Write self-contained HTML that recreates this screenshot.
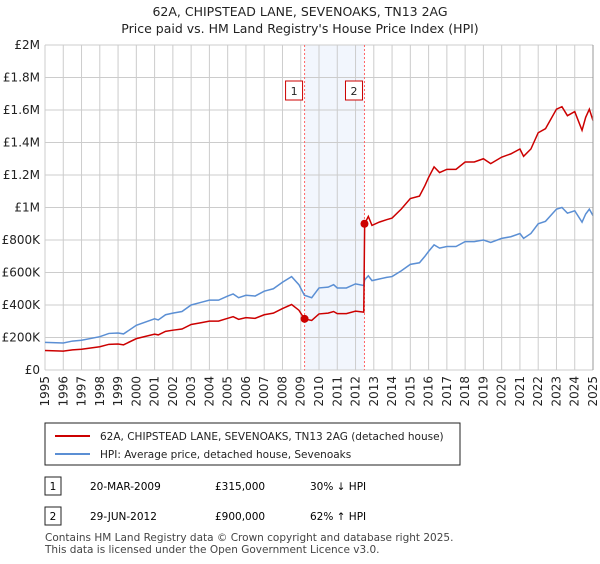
<!DOCTYPE html>
<html><head><meta charset="utf-8"><style>
body{margin:0;background:#fff;font-family:"DejaVu Sans","Liberation Sans",sans-serif;}
</style></head><body>
<svg width="600" height="560" xmlns="http://www.w3.org/2000/svg" font-family="DejaVu Sans, Liberation Sans, sans-serif">
<text x="300" y="16" text-anchor="middle" font-size="12.5" fill="#222">62A, CHIPSTEAD LANE, SEVENOAKS, TN13 2AG</text>
<text x="300" y="33" text-anchor="middle" font-size="12.5" fill="#222">Price paid vs. HM Land Registry's House Price Index (HPI)</text>
<g id="grid"></g><g id="series"></g><g id="axes"></g>
<rect x="45" y="423" width="415" height="42" fill="#fff" stroke="#222"/>
<line x1="55" y1="436" x2="90" y2="436" stroke="#cc0000" stroke-width="2"/>
<text x="100" y="440" font-size="10.5" fill="#222">62A, CHIPSTEAD LANE, SEVENOAKS, TN13 2AG (detached house)</text>
<line x1="55" y1="454" x2="90" y2="454" stroke="#5b8fd4" stroke-width="2"/>
<text x="100" y="458" font-size="10.5" fill="#222">HPI: Average price, detached house, Sevenoaks</text>
<g>
<rect x="45" y="477" width="16" height="18" fill="#fff" stroke="#222"/>
<text x="53" y="490" font-size="10.5" text-anchor="middle">1</text>
<text x="90" y="490" font-size="10.5">20-MAR-2009</text>
<text x="215" y="490" font-size="10.5">£315,000</text>
<text x="310" y="490" font-size="10.5">30% ↓ HPI</text></g>
<g>
<rect x="45" y="507" width="16" height="18" fill="#fff" stroke="#222"/>
<text x="53" y="520" font-size="10.5" text-anchor="middle">2</text>
<text x="90" y="520" font-size="10.5">29-JUN-2012</text>
<text x="215" y="520" font-size="10.5">£900,000</text>
<text x="310" y="520" font-size="10.5">62% ↑ HPI</text></g>
<text x="45" y="541" font-size="10.5" fill="#444">Contains HM Land Registry data © Crown copyright and database right 2025.</text>
<text x="45" y="553" font-size="10.5" fill="#444">This data is licensed under the Open Government Licence v3.0.</text>
</svg>
<script>
const dates=[1995.0,1996.0,1996.5,1997.0,1998.0,1998.5,1999.0,1999.3,2000.0,2001.0,2001.2,2001.6,2002.0,2002.5,2003.0,2003.5,2004.0,2004.5,2005.0,2005.3,2005.6,2006.0,2006.5,2007.0,2007.5,2008.0,2008.5,2008.9,2009.2,2009.6,2010.0,2010.5,2010.8,2011.0,2011.5,2012.0,2012.45,2012.5,2012.7,2012.9,2013.3,2013.7,2014.0,2014.5,2015.0,2015.5,2015.8,2016.0,2016.3,2016.6,2017.0,2017.5,2018.0,2018.5,2019.0,2019.4,2020.0,2020.5,2021.0,2021.2,2021.6,2022.0,2022.4,2023.0,2023.3,2023.6,2024.0,2024.4,2024.6,2024.8,2025.0];
const hpiValues=[170,166,178,183,205,225,228,222,275,315,308,340,350,360,400,415,430,430,455,468,445,460,455,485,500,540,575,525,460,445,505,510,525,505,505,530,520,555,580,550,560,570,575,610,650,660,700,730,770,750,760,760,790,790,800,785,810,820,840,810,840,900,915,990,1000,965,980,910,960,990,950];
const propertyValues=[120,116,124,128,143,158,160,155,193,221,216,238,245,252,280,290,301,301,318,328,312,322,318,340,350,378,403,368,315,305,345,350,360,347,347,362,356,900,945,890,910,925,935,990,1055,1070,1135,1185,1250,1215,1235,1235,1280,1280,1300,1270,1310,1330,1360,1315,1360,1460,1485,1605,1620,1565,1590,1475,1555,1605,1535];
const yTicks=[0,200,400,600,800,1000,1200,1400,1600,1800,2000];
const yTickLabels=["£0","£200K","£400K","£600K","£800K","£1M","£1.2M","£1.4M","£1.6M","£1.8M","£2M"];
const xYears=[1995,1996,1997,1998,1999,2000,2001,2002,2003,2004,2005,2006,2007,2008,2009,2010,2011,2012,2013,2014,2015,2016,2017,2018,2019,2020,2021,2022,2023,2024,2025];
const saleDates=[2009.21,2012.49];
const salePrices=[315,900];
const saleLabels=["1","2"];
const NS="http://www.w3.org/2000/svg";
const X0=45,X1=593,Y0=370,Y1=45;
const xs=d=>X0+(d-1995)/30*(X1-X0);
const ys=v=>Y0-v/2000*(Y0-Y1);
function mk(t,a,p){const e=document.createElementNS(NS,t);for(const k in a)e.setAttribute(k,a[k]);p.appendChild(e);return e;}
const grid=document.getElementById('grid'),ser=document.getElementById('series'),ax=document.getElementById('axes');
const sh=mk('rect',{x:xs(saleDates[0]),y:Y1,width:xs(saleDates[1])-xs(saleDates[0]),height:Y0-Y1,fill:'#f2f6fd'},grid);


yTicks.forEach((v,i)=>{
 const l=mk('line',{x1:X0,x2:X1,y1:ys(v),y2:ys(v),stroke:'#ccc'},grid);
 
 
 const t=mk('text',{x:X0-5,y:ys(v)+4,'text-anchor':'end','font-size':12,fill:'#222'},ax);
 t.textContent=yTickLabels[i];
 
 
});
xYears.forEach(y=>{
 const l=mk('line',{x1:xs(y),x2:xs(y),y1:Y1,y2:Y0,stroke:'#ccc'},grid);
 
 
 const t=mk('text',{x:0,y:0,'text-anchor':'end','font-size':12,fill:'#222',transform:`translate(${xs(y)+4},${Y0+6}) rotate(-90)`},ax);
 t.textContent=y;
 
 
});
saleDates.forEach((d,i)=>{
 const l=mk('line',{x1:xs(d),x2:xs(d),y1:Y1,y2:Y0,stroke:'#ff6666','stroke-dasharray':'2,2'},grid);
 
 
});
const hp=mk('polyline',{points:dates.map((d,i)=>xs(d)+','+ys(hpiValues[i])).join(' '),fill:'none',stroke:'#5b8fd4','stroke-width':1.5},ser);


const pp=mk('polyline',{points:dates.map((d,i)=>xs(d)+','+ys(propertyValues[i])).join(' '),fill:'none',stroke:'#cc0000','stroke-width':1.5},ser);


saleDates.forEach((d,i)=>{
 const c=mk('circle',{cx:xs(d),cy:ys(salePrices[i]),r:4,fill:'#cc0000'},ser);
 
 
 const g=mk('g',{},ser);
 
 
 mk('rect',{x:xs(d)-19,y:81,width:17,height:19,fill:'#fff',stroke:'#cc0000'},g);
 const t=mk('text',{x:xs(d)-10.5,y:95,'text-anchor':'middle','font-size':11,fill:'#222'},g);
 t.textContent=saleLabels[i];
});
mk('line',{x1:X1,x2:X1,y1:Y1,y2:Y0,stroke:'#999'},ax);
</script>
</body></html>
